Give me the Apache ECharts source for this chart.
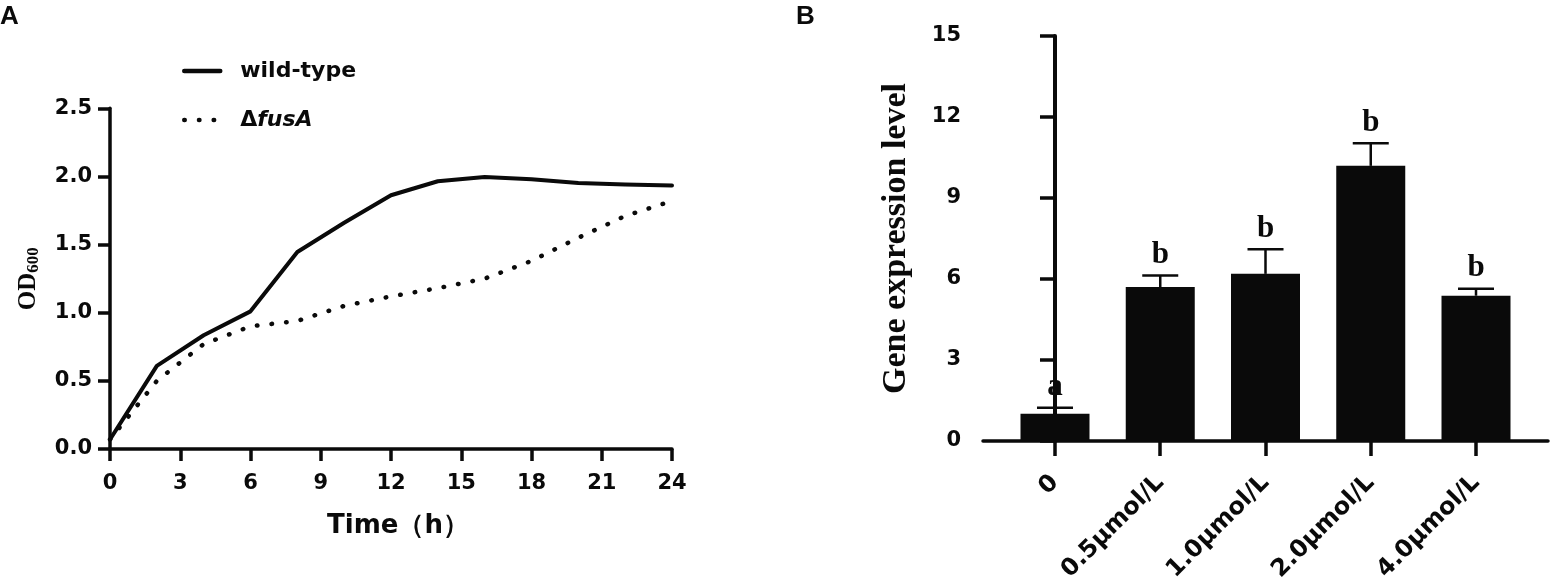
<!DOCTYPE html>
<html>
<head>
<meta charset="utf-8">
<script src="https://cdn.jsdelivr.net/npm/echarts@6/dist/echarts.min.js"></script>
<style>html,body{margin:0;padding:0;background:#fff}#c{width:1550px;height:587px}</style>
</head>
<body>
<div id="c"></div>
<script>
// Panel A: growth curves
const timeHours = [0, 2, 4, 6, 8, 10, 12, 14, 16, 18, 20, 22, 24];
const wildType = [0.07, 0.61, 0.835, 1.01, 1.446, 1.66, 1.862, 1.965, 1.996, 1.98, 1.952, 1.94, 1.933];
const fusA = [0.07, 0.50, 0.77, 0.90, 0.94, 1.05, 1.12, 1.18, 1.25, 1.38, 1.55, 1.71, 1.82];
// Panel B: gene expression
const concentrations = ['0', '0.5μmol/L', '1.0μmol/L', '2.0μmol/L', '4.0μmol/L'];
const expression = [1.01, 5.70, 6.19, 10.19, 5.38];
const expressionErr = [0.22, 0.43, 0.91, 0.84, 0.26];
const sigLetters = ['a', 'b', 'b', 'b', 'b'];

const SANS = '"DejaVu Sans", sans-serif';
const SERIF = '"Liberation Serif", "Times New Roman", serif';
const BLACK = '#0a0a0a';

const chart = echarts.init(document.getElementById('c'));

const axisLineStyle = { show: true, lineStyle: { color: BLACK, width: 3.5 } };

chart.setOption({
  backgroundColor: '#fff',
  animation: false,
  title: [
    { text: 'A', left: 0, top: 4, padding: 0, textStyle: { fontFamily: '"Liberation Sans", Arial, sans-serif', fontWeight: 'bold', fontSize: 26, color: BLACK } },
    { text: 'B', left: 796, top: 4, padding: 0, textStyle: { fontFamily: '"Liberation Sans", Arial, sans-serif', fontWeight: 'bold', fontSize: 26, color: BLACK } }
  ],
  legend: {
    orient: 'vertical',
    left: 182,
    top: 60,
    padding: 0,
    itemWidth: 36,
    itemHeight: 14,
    itemGap: 27,
    itemStyle: { opacity: 0 },
    lineStyle: { width: 4.5 },
    data: ['wild-type', 'ΔfusA'],
    formatter: function (name) {
      return name === 'ΔfusA' ? '{n|Δ}{i|fusA}' : '{n|' + name + '}';
    },
    textStyle: {
      padding: [0, 0, 0, 15],
      rich: {
        n: { fontFamily: SANS, fontWeight: 'bold', fontSize: 22, color: BLACK, lineHeight: 22 },
        i: { fontFamily: SANS, fontWeight: 'bold', fontStyle: 'italic', fontSize: 22, color: BLACK, lineHeight: 22 }
      }
    }
  },
  grid: [
    { left: 110, top: 108.3, width: 562, height: 340.7 },
    { left: 983, top: 36, width: 565, height: 405 }
  ],
  xAxis: [
    {
      gridIndex: 0, type: 'value', min: 0, max: 24, interval: 3,
      axisLine: axisLineStyle,
      axisTick: { show: true, length: 12, lineStyle: { color: BLACK, width: 3.5 } },
      splitLine: { show: false },
      axisLabel: { color: BLACK, fontFamily: SANS, fontWeight: 'bold', fontSize: 21, margin: 24 },
      name: 'Time（h）', nameLocation: 'middle', nameGap: 64,
      nameTextStyle: { color: BLACK, fontFamily: SANS, fontWeight: 'bold', fontSize: 26, padding: [0, 0, 0, 14] }
    },
    {
      gridIndex: 1, type: 'value', min: -0.684, max: 4.684,
      axisLine: axisLineStyle,
      axisTick: { show: true, length: 15, customValues: [0, 1, 2, 3, 4], lineStyle: { color: BLACK, width: 3.5 } },
      splitLine: { show: false },
      axisLabel: {
        customValues: [0, 1, 2, 3, 4],
        rotate: 45, margin: 38,
        color: BLACK, fontFamily: SANS, fontWeight: 'bold', fontSize: 24,
        formatter: function (v) { return concentrations[Math.round(v)]; }
      }
    }
  ],
  yAxis: [
    {
      gridIndex: 0, type: 'value', min: 0, max: 2.5, interval: 0.5,
      axisLine: axisLineStyle,
      axisTick: { show: true, length: 12, lineStyle: { color: BLACK, width: 3.5 } },
      splitLine: { show: false },
      axisLabel: { color: BLACK, fontFamily: SANS, fontWeight: 'bold', fontSize: 21, margin: 18, formatter: function (v) { return v.toFixed(1); } },
      name: '{a|OD}{b|600}', nameLocation: 'middle', nameGap: 66,
      nameTextStyle: {
        rich: {
          a: { fontFamily: SERIF, fontWeight: 'bold', fontSize: 25, color: BLACK, lineHeight: 30 },
          b: { fontFamily: SERIF, fontWeight: 'bold', fontSize: 17, color: BLACK, lineHeight: 30, padding: [10, 0, 0, 0] }
        }
      }
    },
    {
      gridIndex: 1, type: 'value', min: 0, max: 15, interval: 3,
      axisLine: { show: true, lineStyle: { color: BLACK, width: 4 } },
      axisTick: { show: true, length: 15, lineStyle: { color: BLACK, width: 3.5 } },
      splitLine: { show: false },
      axisLabel: { color: BLACK, fontFamily: SANS, fontWeight: 'bold', fontSize: 21, margin: 22 },
      name: 'Gene expression level', nameLocation: 'middle', nameGap: 70,
      nameTextStyle: { color: BLACK, fontFamily: SERIF, fontWeight: 'bold', fontSize: 34 }
    }
  ],
  series: [
    {
      name: 'wild-type', type: 'line', xAxisIndex: 0, yAxisIndex: 0,
      symbol: 'none', symbolSize: 0, color: BLACK,
      lineStyle: { color: BLACK, width: 4, cap: 'round', join: 'round' },
      data: timeHours.map((t, i) => [t, wildType[i]])
    },
    {
      name: 'ΔfusA', type: 'line', xAxisIndex: 0, yAxisIndex: 0,
      symbol: 'none', symbolSize: 0, color: BLACK,
      lineStyle: { color: BLACK, width: 4.5, type: [0.5, 14.2], cap: 'round' },
      data: timeHours.map((t, i) => [t, fusA[i]])
    },
    {
      name: 'expression', type: 'bar', xAxisIndex: 1, yAxisIndex: 1,
      barWidth: 69,
      itemStyle: { color: BLACK },
      data: expression.map((v, i) => [i, v])
    },
    {
      name: 'error', type: 'custom', xAxisIndex: 1, yAxisIndex: 1,
      z: 3,
      data: expression.map((v, i) => [i, v, v + expressionErr[i]]),
      renderItem: function (params, api) {
        const x = api.value(0), top = api.value(1), hi = api.value(2);
        const p0 = api.coord([x, top]);
        const p1 = api.coord([x, hi]);
        return {
          type: 'group',
          children: [
            { type: 'line', shape: { x1: p0[0], y1: p0[1], x2: p1[0], y2: p1[1] }, style: { stroke: BLACK, lineWidth: 2.5 } },
            { type: 'line', shape: { x1: p1[0] - 18, y1: p1[1], x2: p1[0] + 18, y2: p1[1] }, style: { stroke: BLACK, lineWidth: 2.5 } },
            { type: 'text', x: p1[0], y: p1[1] - 5, style: { text: sigLetters[params.dataIndex], align: 'center', verticalAlign: 'bottom', fontFamily: SERIF, fontWeight: 'bold', fontSize: 31, fill: BLACK } }
          ]
        };
      }
    }
  ]
});
</script>
</body>
</html>
